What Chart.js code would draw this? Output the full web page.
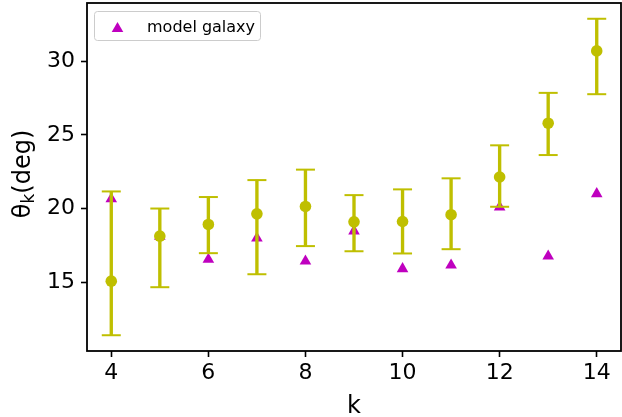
<!DOCTYPE html>
<html>
<head>
<meta charset="utf-8">
<script src="https://cdn.jsdelivr.net/npm/chart.js@4/dist/chart.umd.min.js"></script>
<style>body{margin:0;background:#fff}</style>
</head>
<body>
<div style="width:622px;height:417px"><canvas id="chart" width="622" height="417"></canvas></div>
<script>
var kValues = [4, 5, 6, 7, 8, 9, 10, 11, 12, 13, 14];
var thetaObs = [15.07, 18.13, 18.92, 19.64, 20.14, 19.10, 19.12, 19.58, 22.14, 25.79, 30.70];
var errUpper = [21.16, 20.00, 20.78, 21.93, 22.64, 20.91, 21.30, 22.05, 24.29, 27.85, 32.88];
var errLower = [11.40, 14.66, 16.97, 15.54, 17.45, 17.10, 16.95, 17.24, 20.12, 23.63, 27.76];
var thetaModel = [20.65, 18.10, 16.54, 17.99, 16.43, 18.47, 15.91, 16.15, 20.10, 16.77, 21.00];
var xTicks = [4, 6, 8, 10, 12, 14];
var yTicks = [15, 20, 25, 30];

var olive = '#bfbf00';
var magenta = '#bf00bf';
var fontFamily = '"DejaVu Sans", sans-serif';

function points(vals) {
  return kValues.map(function (k, i) { return {x: k, y: vals[i]}; });
}

var decorations = {
  id: 'decorations',
  afterDraw: function (chart) {
    var ctx = chart.ctx, a = chart.chartArea;
    ctx.save();
    // axes frame
    ctx.strokeStyle = '#000';
    ctx.lineWidth = 1.8;
    ctx.strokeRect(a.left, a.top, a.right - a.left, a.bottom - a.top);

    // legend box
    ctx.beginPath();
    ctx.roundRect(94.5, 11.5, 166, 29, 3);
    ctx.fillStyle = 'rgba(255,255,255,0.8)';
    ctx.fill();
    ctx.strokeStyle = '#cccccc';
    ctx.lineWidth = 1;
    ctx.stroke();
    ctx.fillStyle = magenta;
    Chart.helpers.drawPoint(ctx, {pointStyle: 'triangle', radius: 6.7, borderWidth: 0, rotation: 0}, 117.5, 28.7);
    ctx.fillStyle = '#000';
    ctx.font = '16px ' + fontFamily;
    ctx.textAlign = 'left';
    ctx.textBaseline = 'alphabetic';
    ctx.fillText('model galaxy', 147, 31.5);

    // x title
    ctx.font = '24px ' + fontFamily;
    ctx.textAlign = 'center';
    ctx.fillText('k', (a.left + a.right) / 2, 413);

    // y title with subscript
    ctx.translate(30, 174);
    ctx.rotate(-Math.PI / 2);
    ctx.textAlign = 'left';
    ctx.font = '24px ' + fontFamily;
    var w1 = ctx.measureText('\u03b8').width;
    var w3 = ctx.measureText('(deg)').width;
    ctx.font = '17px ' + fontFamily;
    var w2 = ctx.measureText('k').width;
    var x0 = -(w1 + w2 + w3) / 2;
    ctx.font = '24px ' + fontFamily;
    ctx.fillText('\u03b8', x0, 0);
    ctx.fillText('(deg)', x0 + w1 + w2, 0);
    ctx.font = '17px ' + fontFamily;
    ctx.fillText('k', x0 + w1, 4);
    ctx.restore();
  }
};

var tickFont = {family: fontFamily, size: 22};

new Chart(document.getElementById('chart').getContext('2d'), {
  type: 'scatter',
  data: {
    datasets: [{
      label: 'model galaxy',
      data: points(thetaModel),
      pointStyle: 'triangle',
      pointRadius: 6.7,
      backgroundColor: magenta,
      borderColor: magenta,
      borderWidth: 0,
      order: 4
    }, {
      type: 'bar',
      label: 'error',
      data: kValues.map(function (k, i) { return {x: k, y: [errLower[i], errUpper[i]]}; }),
      backgroundColor: olive,
      borderWidth: 0,
      barThickness: 2.7,
      order: 3
    }, {
      label: 'upper cap',
      data: points(errUpper),
      pointStyle: 'line',
      pointRadius: 9.5,
      borderColor: olive,
      borderWidth: 2,
      order: 2
    }, {
      label: 'lower cap',
      data: points(errLower),
      pointStyle: 'line',
      pointRadius: 9.5,
      borderColor: olive,
      borderWidth: 2,
      order: 2
    }, {
      label: 'observed',
      data: points(thetaObs),
      pointStyle: 'circle',
      pointRadius: 5.8,
      backgroundColor: olive,
      borderColor: olive,
      borderWidth: 0,
      order: 1
    }]
  },
  options: {
    responsive: false,
    animation: false,
    events: [],
    layout: {autoPadding: false, padding: {top: 3, right: 1, left: 0, bottom: 0}},
    plugins: {legend: {display: false}, tooltip: {enabled: false}},
    scales: {
      x: {
        type: 'linear',
        offset: false,
        min: 3.5,
        max: 14.5,
        afterBuildTicks: function (s) { s.ticks = xTicks.map(function (v) { return {value: v}; }); },
        afterFit: function (s) { s.height = 66; s.paddingLeft = 0; s.paddingRight = 0; },
        grid: {offset: false, drawOnChartArea: false, drawTicks: true, tickLength: 6, tickColor: '#000', tickWidth: 1.6},
        border: {display: false},
        ticks: {color: '#000', font: tickFont, padding: 3, maxRotation: 0, autoSkip: false}
      },
      y: {
        min: 10.33,
        max: 33.95,
        afterBuildTicks: function (s) { s.ticks = yTicks.map(function (v) { return {value: v}; }); },
        afterFit: function (s) { s.width = 87; s.paddingTop = 0; s.paddingBottom = 0; },
        grid: {drawOnChartArea: false, drawTicks: true, tickLength: 6, tickColor: '#000', tickWidth: 1.6},
        border: {display: false},
        ticks: {color: '#000', font: tickFont, padding: 6}
      }
    }
  },
  plugins: [decorations]
});
</script>
</body>
</html>
